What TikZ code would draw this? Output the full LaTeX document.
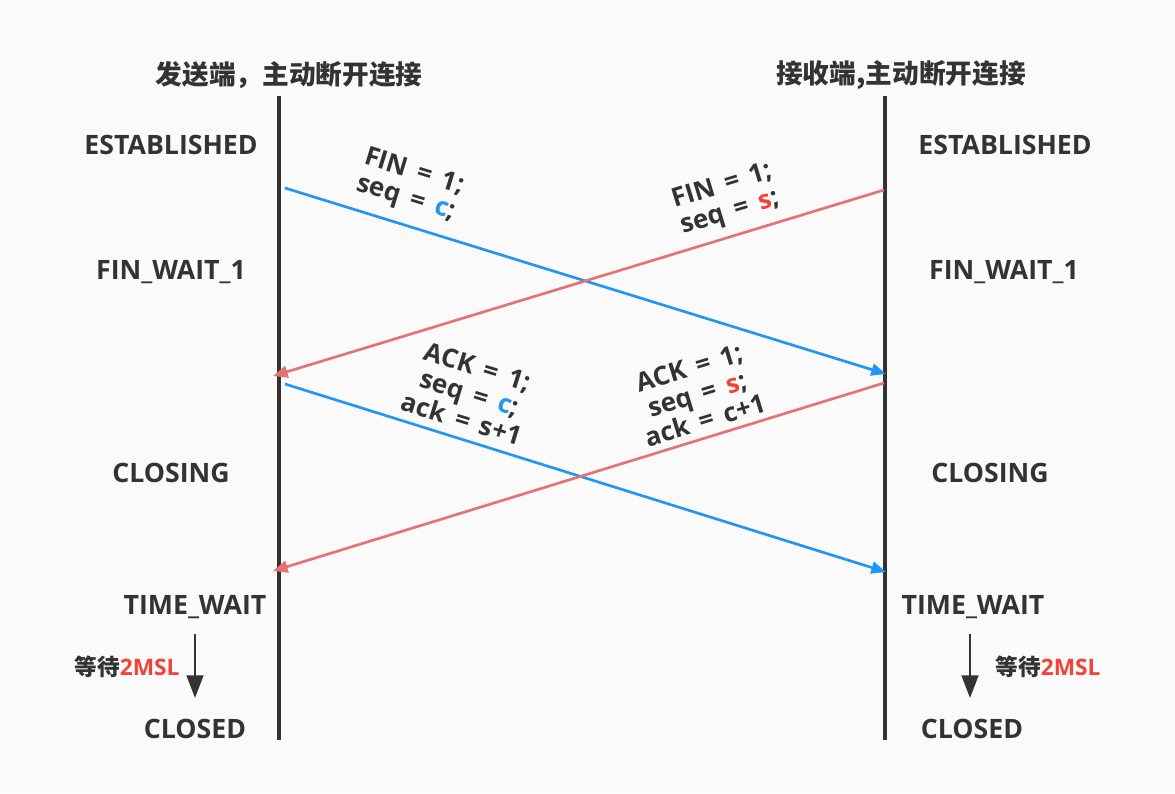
\documentclass[tikz,border=0pt]{standalone}
\usepackage{fontspec}
\setmainfont{Open Sans}
\newfontfamily\msgfont{Open Sans}[WordSpace=1.6]
\newfontfamily\cjk{Noto Sans CJK SC}
\usetikzlibrary{arrows.meta}
\definecolor{ink}{HTML}{333333}
\definecolor{cblue}{HTML}{2196F3}
\definecolor{cred}{HTML}{E57373}
\definecolor{hred}{HTML}{F44336}

\begin{document}
\begin{tikzpicture}[x=0.75pt, y=-0.75pt,
  state/.style={text=ink, font=\bfseries\fontsize{20}{22}\selectfont, inner sep=0pt},
  title/.style={text=ink, font=\cjk\bfseries\fontsize{20}{22}\selectfont, inner sep=0pt},
  msg/.style={text=ink, align=center, font=\msgfont\bfseries\fontsize{19.5}{20.5}\selectfont, inner sep=0pt},
  wait/.style={text=ink, font=\bfseries\fontsize{17}{18}\selectfont, inner sep=0pt},
  life/.style={ink, line width=2.3pt},
  arrow/.style={line width=2pt, -{Triangle[length=11pt, width=9pt]}},
  timer/.style={ink, line width=2pt, -{Triangle[length=17pt, width=12.5pt]}}]
\fill[white!98!black] (0,0) rectangle (1175,793);
\useasboundingbox (0,0) rectangle (1175,793);

% lifelines
\coordinate (ltop) at (279,96);
\coordinate (lbot) at (279,740);
\coordinate (rtop) at (885,96);
\coordinate (rbot) at (885,740);
\draw[life] (ltop) -- (lbot);
\draw[life] (rtop) -- (rbot);

\node[title] (sender) at (289,75) {发送端，主动断开连接};
\node[title] (receiver) at (901,75) {接收端,主动断开连接};

% left states
\node[state] (lest) at (171,145) {ESTABLISHED};
\node[state] (lfin) at (171,272) {FIN\_WAIT\_1};
\node[state] (lclosing) at (171,473) {CLOSING};
\node[state] (ltime) at (195,607) {TIME\_WAIT};
\node[state] (lclosed) at (195,729) {CLOSED};

% right states
\node[state] (rest) at (1005,145) {ESTABLISHED};
\node[state] (rfin) at (1004,272) {FIN\_WAIT\_1};
\node[state] (rclosing) at (990,473) {CLOSING};
\node[state] (rtime) at (973,607) {TIME\_WAIT};
\node[state] (rclosed) at (972,729) {CLOSED};

% message end points
\coordinate (a1) at (285,188);
\coordinate (b1) at (886,374);
\coordinate (a2) at (884,190);
\coordinate (b2) at (273,376);
\coordinate (a3) at (285,384);
\coordinate (b3) at (886,572);
\coordinate (a4) at (884,383);
\coordinate (b4) at (273,571);
\draw[arrow, cblue] (a1) -- (b1);
\draw[arrow, cred] (a2) -- (b2);
\draw[arrow, cblue] (a3) -- (b3);
\draw[arrow, cred] (a4) -- (b4);

\node[msg, rotate=-17] (fin1) at (410,186) {FIN = 1;\\seq = \textcolor{cblue}{c};};
\node[msg, rotate=17] (fin2) at (726,200) {FIN = 1;\\seq = \textcolor{hred}{s};};
\node[msg, rotate=-17] (ack1) at (470,393) {ACK = 1;\\seq = \textcolor{cblue}{c};\\ack = s+1};
\node[msg, rotate=17] (ack2) at (697,394) {ACK = 1;\\seq = \textcolor{hred}{s};\\ack = c+1};

% 2MSL timers
\coordinate (lw1) at (195,634);
\coordinate (lw2) at (195,698);
\coordinate (rw1) at (970,634);
\coordinate (rw2) at (970,698);
\draw[timer] (lw1) -- (lw2);
\draw[timer] (rw1) -- (rw2);
\node[wait] (lwait) at (127,667) {{\cjk 等待}\textcolor{hred}{2MSL}};
\node[wait] (rwait) at (1048,667) {{\cjk 等待}\textcolor{hred}{2MSL}};
\end{tikzpicture}
\end{document}
